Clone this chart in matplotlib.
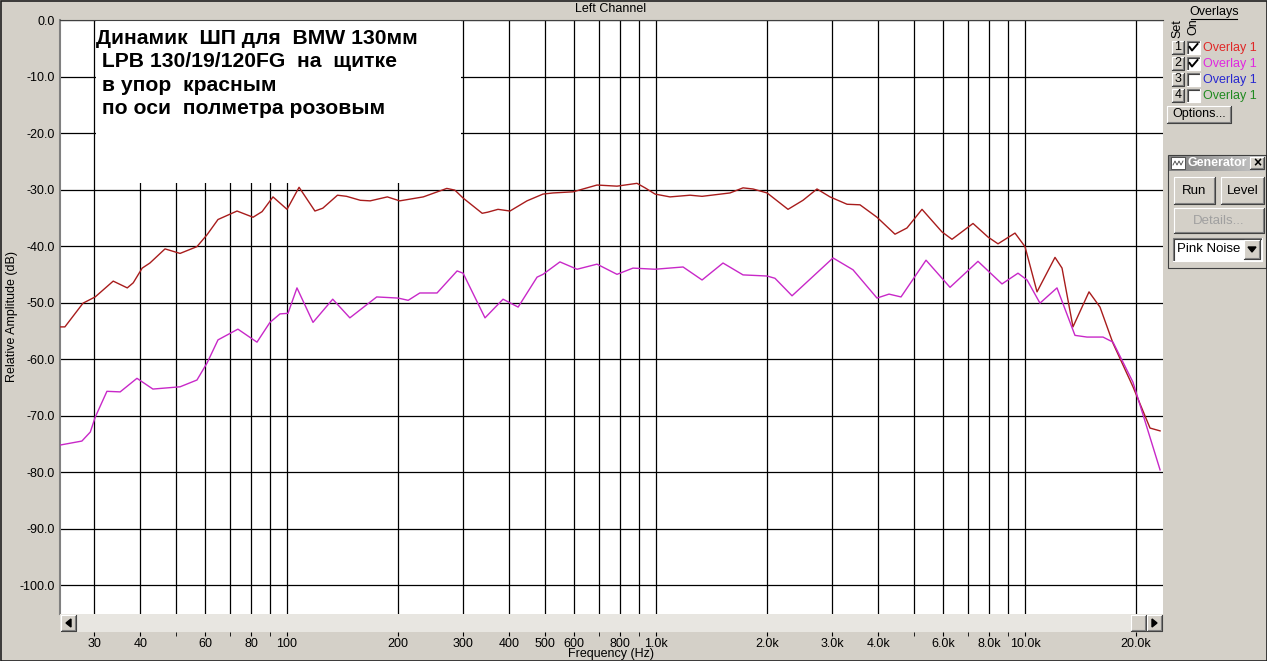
import numpy as np
import matplotlib.pyplot as plt
from matplotlib.patches import Rectangle, Polygon
from matplotlib.colors import LinearSegmentedColormap

plt.rcParams['font.family'] = ['Liberation Sans', 'DejaVu Sans']

# ---- data ----
red_freq = [24.3, 25.0, 28.0, 30.2, 33.8, 36.9, 38.3, 40.5, 42.5, 46.7, 51.3, 57.0, 60.7,
            65.0, 73.2, 80.9, 85.6, 91.6, 100, 107.8, 119, 125, 137, 145, 158, 168, 187,
            202, 234, 271, 285, 300, 338, 350, 373, 402, 447, 494, 526, 596, 692, 784, 888,
            934, 994, 1091, 1237, 1333, 1587, 1721, 1832, 2000, 2279, 2502, 2731, 2962,
            3294, 3571, 3971, 4443, 4788, 5259, 5958, 6341, 7230, 7938, 8450, 9395, 10000,
            10780, 12060, 12600, 13490, 14910, 15970, 17320, 19620, 21820, 23230]
red_db = [-54.3, -54.3, -50.1, -49.0, -46.2, -47.4, -46.5, -43.9, -43.0, -40.5, -41.3, -40.1,
          -38.0, -35.3, -33.8, -34.9, -33.9, -31.3, -33.5, -29.6, -33.8, -33.3, -31.0, -31.2,
          -31.9, -32.0, -31.3, -32.0, -31.3, -29.8, -30.1, -31.5, -34.2, -34.0, -33.5, -33.8,
          -32.0, -30.8, -30.6, -30.4, -29.2, -29.4, -28.9, -29.7, -30.8, -31.3, -31.0, -31.2,
          -30.6, -29.7, -29.9, -30.6, -33.5, -31.9, -29.9, -31.3, -32.6, -32.7, -34.9, -37.9,
          -36.8, -33.5, -37.5, -38.8, -36.0, -38.4, -39.6, -37.7, -40.1, -48.1, -42.0, -43.9,
          -54.3, -48.1, -50.8, -57.2, -64.9, -72.2, -72.7]

pink_freq = [24.3, 27.8, 29.3, 30.2, 32.5, 35.3, 39.2, 43.3, 51.3, 57.0, 60.7, 65.0, 73.6,
             82.9, 89.9, 95.7, 100.6, 106.4, 117.6, 133, 148, 175, 200, 213, 229, 255, 289,
             300, 344, 385, 423, 476, 494, 549, 611, 692, 784, 866, 994, 1184, 1333, 1519,
             1721, 2000, 2101, 2337, 3018, 3419, 3971, 4280, 4613, 5392, 6263, 7457, 8663,
             9572, 10130, 10980, 12210, 13660, 14720, 16270, 17320, 19620, 23230]
pink_db = [-75.2, -74.5, -72.9, -70.3, -65.7, -65.8, -63.4, -65.3, -64.9, -63.7, -60.7, -56.6,
           -54.7, -57.0, -53.5, -52.0, -51.9, -47.4, -53.5, -49.4, -52.7, -49.0, -49.2, -49.6,
           -48.3, -48.3, -44.4, -44.8, -52.7, -49.4, -50.8, -45.5, -45.0, -42.8, -44.1, -43.2,
           -45.0, -43.9, -44.1, -43.7, -46.0, -43.0, -45.1, -45.3, -45.7, -48.8, -42.1, -44.2,
           -49.2, -48.5, -49.0, -42.5, -47.3, -42.7, -46.7, -44.8, -46.0, -50.1, -47.4, -55.8,
           -56.1, -56.1, -57.0, -64.1, -79.6]

grid_freqs = [30, 40, 50, 60, 70, 80, 90, 100, 200, 300, 400, 500, 600, 700, 800, 900,
              1000, 2000, 3000, 4000, 5000, 6000, 7000, 8000, 9000, 10000, 20000]
label_freqs = [30, 40, 60, 80, 100, 200, 300, 400, 500, 600, 800, 1000, 2000, 3000, 4000,
               6000, 8000, 10000, 20000]
label_texts = ['30', '40', '60', '80', '100', '200', '300', '400', '500', '600', '800', '1.0k',
               '2.0k', '3.0k', '4.0k', '6.0k', '8.0k', '10.0k', '20.0k']
db_ticks = [0, -10, -20, -30, -40, -50, -60, -70, -80, -90, -100]

note_lines = ['Динамик  ШП для  BMW 130мм', ' LPB 130/19/120FG  на  щитке',
              ' в упор  красным', ' по оси  полметра розовым']

overlay_names = ['Overlay 1', 'Overlay 1', 'Overlay 1', 'Overlay 1']
overlay_colors = ['#E02828', '#E028E0', '#2828D0', '#208A20']
overlay_on = [True, True, False, False]

BG = '#D4D0C8'
W, H = 1267, 661
XMIN, XMAX = 24.25, 23660
YMIN, YMAX = -105.1, 0
FS = 9


def px_rect(x0, y0, x1, y1):
    return [x0 / W, 1 - y1 / H, (x1 - x0) / W, (y1 - y0) / H]


def button(a, x0, y0, x1, y1, face=BG):
    a.add_patch(Rectangle((x0, y0), x1 - x0, y1 - y0, facecolor=face, edgecolor='none'))
    a.plot([x0, x0, x1], [y1, y0, y0], color='white', lw=0.8)
    a.plot([x0, x1, x1], [y1, y1, y0], color='#404040', lw=0.8)
    a.plot([x0 + 1, x1 - 1, x1 - 1], [y1 - 1, y1 - 1, y0 + 1], color='#808080', lw=0.8)


def sunken(a, x0, y0, x1, y1, face='white'):
    a.add_patch(Rectangle((x0, y0), x1 - x0, y1 - y0, facecolor=face, edgecolor='none'))
    a.plot([x0, x0, x1], [y1, y0, y0], color='#808080', lw=0.8)
    a.plot([x0 + 1, x0 + 1, x1 - 1], [y1 - 1, y0 + 1, y0 + 1], color='#404040', lw=0.8)
    a.plot([x0, x1, x1], [y1, y1, y0], color='white', lw=0.8)


fig = plt.figure(figsize=(W / 100, H / 100), dpi=100, facecolor=BG)

# ---- main plot ----
ax = fig.add_axes(px_rect(60, 20, 1163, 614), zorder=2)
ax.set_facecolor('white')
ax.set_xscale('log')
ax.set_xlim(XMIN, XMAX)
ax.set_ylim(YMIN, YMAX)
ax.set_xticks(grid_freqs)
ax.set_xticks([], minor=True)
ax.set_yticks(db_ticks)
ax.set_yticklabels([f'{v:.1f}' for v in db_ticks])
ax.tick_params(axis='both', length=0, labelbottom=False, labelsize=FS, pad=3.5)
ax.set_axisbelow(True)
ax.grid(True, color='black', lw=0.9)
for s in ['right', 'bottom']:
    ax.spines[s].set_visible(False)
ax.spines['top'].set_color('#404040')
ax.spines['left'].set_color('#808080')
ax.spines['left'].set_linewidth(1.5)

# white note box covering grid
ax.add_patch(Rectangle((30.4, -28.8), 296 - 30.4, 28.8, facecolor='white',
                       edgecolor='none', zorder=1))
ax.plot(red_freq, red_db, color='#A81C1C', lw=1.0, zorder=3)
ax.plot(pink_freq, pink_db, color='#C828C8', lw=1.0, zorder=3)

# ---- scrollbar with frequency labels ----
sb = fig.add_axes(px_rect(60, 614, 1163, 632), zorder=2)
sb.set_facecolor('#E8E6E1')
sb.set_xscale('log')
sb.set_xlim(XMIN, XMAX)
sb.set_yticks([])
sb.set_xticks(label_freqs)
sb.set_xticklabels(label_texts)
sb.set_xticks([50, 70, 90, 700, 900, 5000, 7000, 9000], minor=True)
sb.tick_params(axis='x', which='both', direction='out', length=3, pad=1,
               labelsize=FS, color='black')
for s in sb.spines.values():
    s.set_visible(False)

# ---- UI overlay ----
ui = fig.add_axes([0, 0, 1, 1], zorder=5)
ui.patch.set_visible(False)
ui.axis('off')

ui.text(611, 9.5, 'Left Channel', ha='center', va='center', fontsize=FS)
ui.text(611, 654.5, 'Frequency (Hz)', ha='center', va='center', fontsize=FS)
ui.text(12, 317, 'Relative Amplitude (dB)', ha='center', va='center',
        rotation=90, fontsize=FS)

# scrollbar buttons
button(ui, 61, 615, 76, 631)
ui.add_patch(Polygon([[71, 619], [71, 627], [66, 623]], closed=True, color='black'))
button(ui, 1131, 615, 1146, 631)
button(ui, 1147, 615, 1162, 631)
ui.add_patch(Polygon([[1152, 619], [1152, 627], [1157, 623]], closed=True, color='black'))

# note text
baselines = [44, 67, 91, 114]
for txt, yb in zip(note_lines, baselines):
    ui.text(96, yb, txt, ha='left', va='baseline', fontsize=15.2, fontweight='bold',
            color='black')

# overlays panel
ui.text(1214, 12, 'Overlays', ha='center', va='center', fontsize=FS)
ui.plot([1191, 1237], [19, 19], color='black', lw=0.8)
ui.text(1177, 29, 'Set', ha='center', va='center', rotation=90, fontsize=FS)
ui.text(1193, 27, 'On', ha='center', va='center', rotation=90, fontsize=FS)
for i, (name, col, on) in enumerate(zip(overlay_names, overlay_colors, overlay_on)):
    y0 = 41 + 16 * i
    button(ui, 1172, y0, 1184, y0 + 13)
    ui.text(1178, y0 + 6.5, str(i + 1), ha='center', va='center', fontsize=FS)
    sunken(ui, 1187, y0, 1200, y0 + 13)
    if on:
        ui.plot([1189.5, 1192, 1197.5], [y0 + 6, y0 + 9.5, y0 + 3], color='black', lw=1.4)
    ui.text(1203, y0 + 6.5, name, ha='left', va='center', fontsize=FS, color=col)

button(ui, 1167, 106, 1231, 123)
ui.text(1199, 114.5, 'Options...', ha='center', va='center', fontsize=FS)

# generator window
ui.add_patch(Rectangle((1168, 155), 98, 113, facecolor=BG, edgecolor='#404040', lw=0.8))
grad = LinearSegmentedColormap.from_list('g', ['#7F7F7F', '#C8C8C8'])
ui.imshow(np.linspace(0, 1, 100)[None, :], cmap=grad, extent=(1169, 1265, 171, 156),
          aspect='auto', zorder=1)
ui.add_patch(Rectangle((1171, 157), 14, 12, facecolor='white', edgecolor='#404040',
                       lw=0.6, zorder=2))
ui.plot([1173, 1175, 1177, 1179, 1181, 1183], [165, 161, 165, 161, 165, 161],
        color='#404040', lw=0.6, zorder=3)
ui.text(1188, 163.5, 'Generator', ha='left', va='center', fontsize=FS,
        fontweight='bold', color='white', zorder=3)
button(ui, 1250, 157, 1264, 169)
ui.text(1257, 163, '×', ha='center', va='center', fontsize=10, fontweight='bold')

button(ui, 1174, 177, 1215, 204)
ui.text(1194.5, 190.5, 'Run', ha='center', va='center', fontsize=9.5)
button(ui, 1221, 177, 1264, 204)
ui.text(1242.5, 190.5, 'Level', ha='center', va='center', fontsize=9.5)
button(ui, 1174, 208, 1264, 233)
ui.text(1219, 220.5, 'Details...', ha='center', va='center', fontsize=9.5, color='#A0A0A0')
sunken(ui, 1173, 238, 1262, 261)
ui.text(1177, 249.5, 'Pink Noise', ha='left', va='center', fontsize=9.5)
button(ui, 1244, 240, 1260, 259)
ui.add_patch(Polygon([[1248, 247], [1256, 247], [1252, 252]], closed=True, color='black'))

# outer frame
ui.add_patch(Rectangle((0.5, 0.5), W - 1, H - 1, facecolor='none', edgecolor='#202020', lw=1.2))

ui.set_xlim(0, W)
ui.set_ylim(H, 0)

fig.savefig('out.png', dpi=100, facecolor=BG)
